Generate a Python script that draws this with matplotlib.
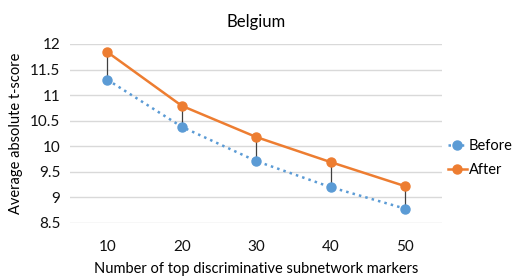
import numpy as np
from matplotlib import pyplot as plt

plt.rcParams['font.family'] = ['Lato', 'DejaVu Sans']

markers = [10, 20, 30, 40, 50]
before = [11.30, 10.38, 9.71, 9.20, 8.78]
after = [11.84, 10.79, 10.18, 9.69, 9.22]

blue = '#5b9bd5'
orange = '#ed7d31'

fig = plt.figure(figsize=(5.16, 2.78), dpi=100)
ax = fig.add_axes([0.136, 0.198, 0.721, 0.644])

x = np.arange(len(markers))
ax.vlines(x, before, after, color='#404040', lw=0.9, zorder=2)
ax.plot(x, before, color=blue, ls=':', lw=1.8, marker='o', ms=6.5, label='Before', zorder=3)
ax.plot(x, after, color=orange, ls='-', lw=1.8, marker='o', ms=6.5, label='After', zorder=3)

ax.set_xlim(-0.5, len(markers) - 0.5)
ax.set_ylim(8.5, 12)
ax.set_yticks(np.arange(8.5, 12.01, 0.5))
ax.set_yticklabels(['8.5', '9', '9.5', '10', '10.5', '11', '11.5', '12'])
ax.set_xticks(x)
ax.set_xticklabels([str(m) for m in markers])
ax.grid(axis='y', color='#d9d9d9', lw=1)
ax.set_axisbelow(True)
for s in ax.spines.values():
    s.set_visible(False)
ax.tick_params(length=0, labelsize=11, colors='#111111', pad=7)
ax.tick_params(axis='x', pad=12)

ax.set_title('Belgium', fontsize=12, pad=12)
ax.set_xlabel('Number of top discriminative subnetwork markers', fontsize=10.5, labelpad=6)
ax.set_ylabel('Average absolute t-score', fontsize=10.5, labelpad=5)

fig.legend(loc='center left', bbox_to_anchor=(0.868, 0.432), frameon=False, fontsize=10.5,
           handlelength=1.3, handletextpad=0.15, labelspacing=0.7, borderpad=0, borderaxespad=0)

fig.savefig('out.png', dpi=100)
